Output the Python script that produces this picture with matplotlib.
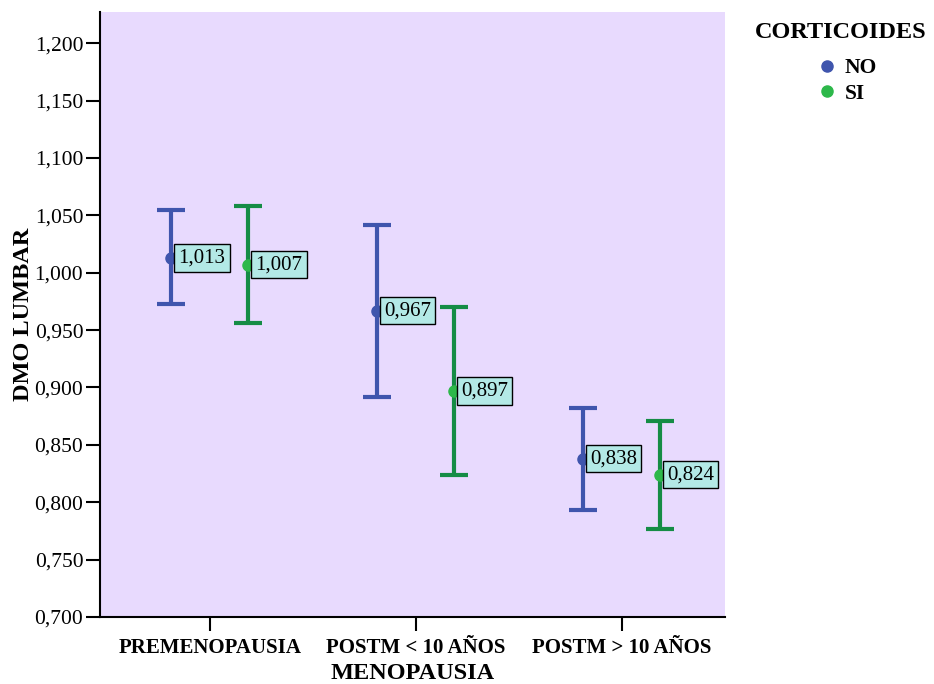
import matplotlib.pyplot as plt
from matplotlib.lines import Line2D
from matplotlib.ticker import FuncFormatter
import numpy as np

plt.rcParams['font.family'] = ['Liberation Serif', 'DejaVu Serif']

categories = ["PREMENOPAUSIA", "POSTM < 10 AÑOS", "POSTM > 10 AÑOS"]
groups = ["NO", "SI"]
means = {"NO": [1.013, 0.967, 0.838], "SI": [1.007, 0.897, 0.824]}
upper = {"NO": [1.0545, 1.0415, 0.882], "SI": [1.058, 0.970, 0.8707]}
lower = {"NO": [0.9727, 0.8916, 0.7932], "SI": [0.956, 0.8237, 0.7767]}

bar_colors = {"NO": "#3F55AD", "SI": "#158C45"}
dot_colors = {"NO": "#3F55AD", "SI": "#2DB84A"}
offsets = {"NO": -0.187, "SI": 0.187}

fig = plt.figure(figsize=(9.34, 6.84), dpi=100)
ax = fig.add_axes([0.107, 0.098, 0.669, 0.884])
ax.set_facecolor("#E8DAFE")

x = np.arange(len(categories))
for g in groups:
    xs = x + offsets[g]
    m = np.array(means[g])
    yerr = [m - np.array(lower[g]), np.array(upper[g]) - m]
    ax.errorbar(xs, m, yerr=yerr, fmt="none", ecolor=bar_colors[g],
                elinewidth=3, capsize=10, capthick=3, zorder=2)
    ax.plot(xs, m, "o", color=dot_colors[g], markersize=8, zorder=3)
    for xi, yi in zip(xs, m):
        ax.annotate(f"{yi:.3f}".replace(".", ","), (xi, yi),
                    xytext=(5, 0), textcoords="offset points",
                    ha="left", va="center", fontsize=15,
                    bbox=dict(boxstyle="square,pad=0.2", fc="#B3E9E6",
                              ec="black", lw=1), zorder=4)

ax.set_xlim(-0.534, 2.5)
ax.set_ylim(0.700, 1.227)
ax.set_yticks(np.arange(0.700, 1.2001, 0.050))
ax.yaxis.set_major_formatter(FuncFormatter(lambda v, p: f"{v:.3f}".replace(".", ",")))
ax.set_xticks(x)
ax.set_xticklabels(categories, fontweight="bold", fontsize=15)
ax.tick_params(axis="y", labelsize=15.5, length=10, width=1.5, pad=2)
ax.tick_params(axis="x", length=10, width=1.5, pad=5)

for s in ["top", "right"]:
    ax.spines[s].set_visible(False)
for s in ["left", "bottom"]:
    ax.spines[s].set_linewidth(1.5)

ax.set_xlabel("MENOPAUSIA", fontweight="bold", fontsize=17.5, labelpad=4)
ax.set_ylabel("DMO LUMBAR", fontweight="bold", fontsize=17.5, labelpad=0)

# leyenda: titulo aparte para controlar la posicion
fig.text(755 / 934, 1 - 33 / 684, "CORTICOIDES", fontweight="bold",
         fontsize=17.5, ha="left", va="center")
handles = [Line2D([0], [0], marker="o", ls="none", color=dot_colors[g],
                  markersize=8, label=g) for g in groups]
fig.legend(handles=handles, loc="upper left",
           bbox_to_anchor=(811 / 934, 1 - 58 / 684), frameon=False,
           prop={"weight": "bold", "size": 15.5}, handletextpad=0.05,
           labelspacing=0.25, handlelength=1.5, borderpad=0, borderaxespad=0)

fig.savefig("out.png", dpi=100)
